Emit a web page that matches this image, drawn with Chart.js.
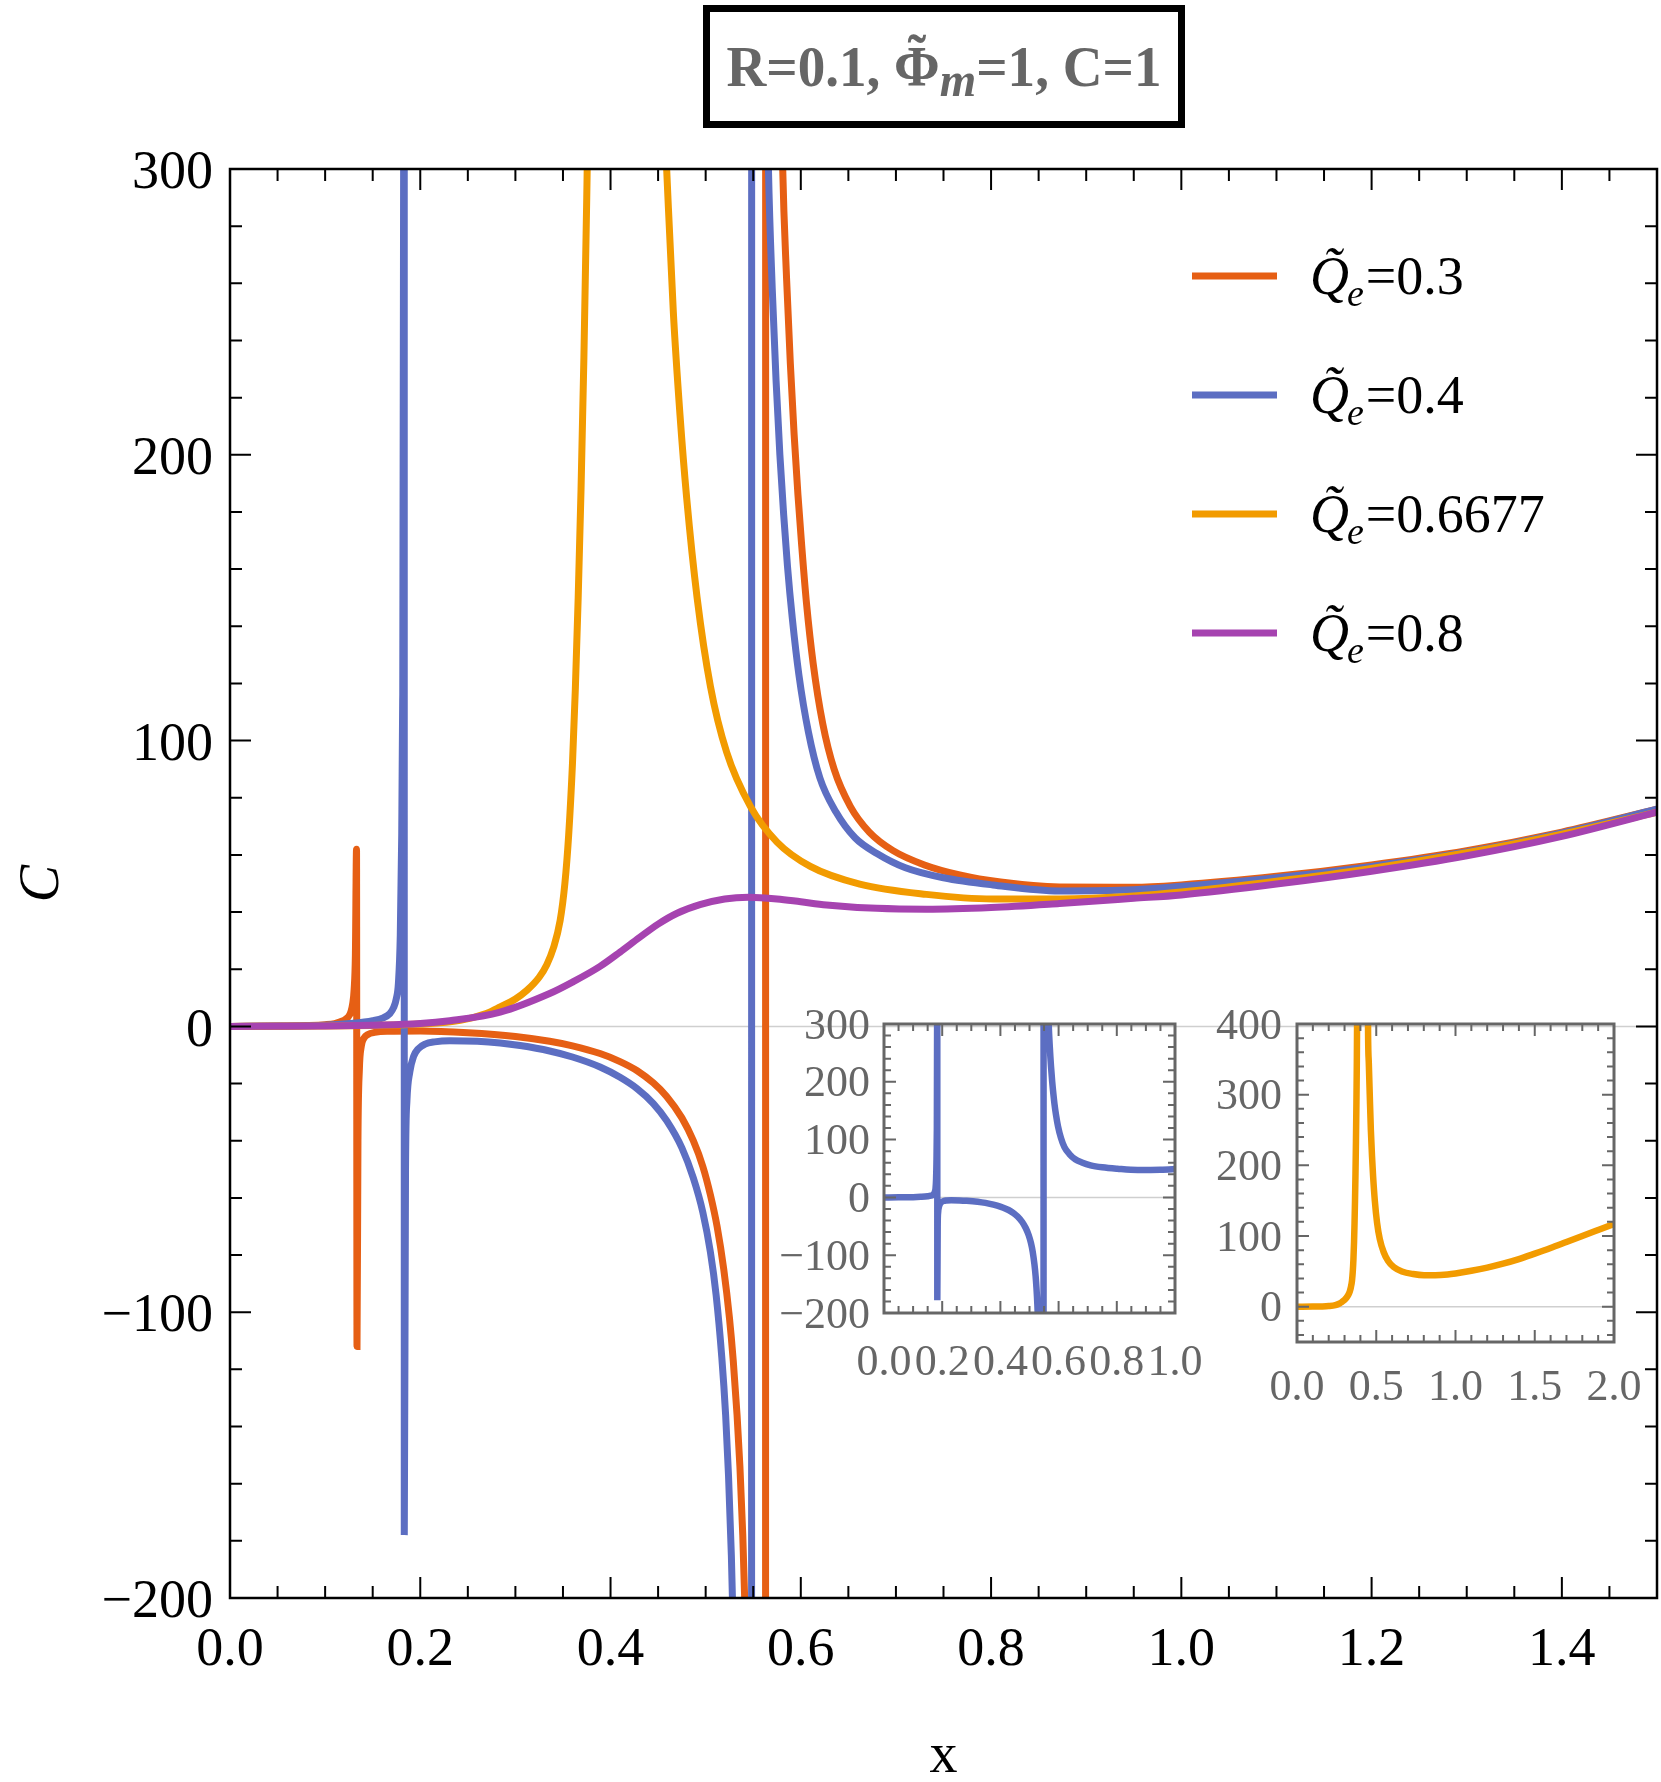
<!DOCTYPE html>
<html>
<head>
<meta charset="utf-8">
<script src="https://cdn.jsdelivr.net/npm/chart.js@4.4.1/dist/chart.umd.min.js"></script>
<style>
  body { margin: 0; background: #fff; }
  #wrap { position: relative; width: 1661px; height: 1782px; overflow: hidden; }
  #wrap canvas { position: absolute; }
  #title {
    position: absolute; left: 703px; top: 5px; width: 482px; height: 123px;
    box-sizing: border-box; border: 7px solid #000;
    display: flex; align-items: center; justify-content: center;
    font: bold 58px "Liberation Serif", serif; color: #666; white-space: nowrap;
  }
  #title .txt { display: inline-block; transform: scaleX(0.95); }
  #title .acc { position: relative; display: inline-block; }
  #title .tl { position: absolute; left: 0; right: 0; top: -0.2em; text-align: center; }
  #title sub { font-style: italic; font-size: 0.85em; vertical-align: -0.2em; line-height: 0; }
</style>
</head>
<body>
<div id="wrap">
  <canvas id="mainChart" width="1661" height="1782" style="left:0;top:0"></canvas>
  <canvas id="inset1" width="460" height="420" style="left:770px;top:980px"></canvas>
  <canvas id="inset2" width="484" height="440" style="left:1180px;top:980px"></canvas>
  <div id="title"><span class="txt">R=0.1, <span class="acc">&Phi;<span class="tl">&#732;</span></span><sub>m</sub>=1, C=1</span></div>
</div>
<script>
// Q_e values shown in the legend, with their line colours
const seriesLabels = ['0.3', '0.4', '0.6677', '0.8'];
const seriesColors = ['#e65f14', '#5c6ec2', '#f29b00', '#a643b0'];

// Q_e = 0.3
const redX = [0, 0.05, 0.08, 0.1, 0.11, 0.119, 0.124, 0.127, 0.129, 0.1305, 0.1318, 0.133, 0.1335, 0.1345, 0.136,
  0.138, 0.141, 0.145, 0.152, 0.165, 0.2, 0.25, 0.3, 0.336, 0.36, 0.389, 0.41, 0.428, 0.445, 0.459,
  0.475, 0.487, 0.497, 0.505, 0.512, 0.519, 0.525, 0.529, 0.533, 0.536, 0.539, 0.541, 0.546, 0.552, 0.558,
  0.5625, 0.5635, 0.566, 0.57, 0.575, 0.578, 0.581, 0.585, 0.589, 0.593, 0.597, 0.601, 0.606, 0.613, 0.623,
  0.635, 0.652, 0.672, 0.697, 0.73, 0.767, 0.81, 0.872, 0.95, 1.0, 1.1, 1.2, 1.3, 1.4, 1.5];
const redY = [0, 0.1, 0.3, 0.6, 1, 2, 3.2, 5, 8, 13, 25, 62, -112, -40, -15,
  -7, -4, -2.8, -2.1, -1.7, -1.6, -2.2, -3.5, -5.2, -6.8, -9.5, -12.3, -15.5, -19.8, -24.5,
  -32, -40, -49, -59, -70, -85, -102, -117, -136, -154, -178, -200, -270, -420, -900,
  -4000, 4000, 1600, 800, 450, 360, 300, 262, 232, 207, 186, 168, 148, 127, 106,
  90, 77, 68, 61.5, 56.5, 53, 50.5, 48.8, 48.7, 49.5, 52.5, 56.5, 61.5, 68, 76];

// Q_e = 0.4
const blueX = [0, 0.05, 0.1, 0.126, 0.15, 0.161, 0.168, 0.172, 0.175, 0.177, 0.179, 0.1805, 0.1815, 0.1825, 0.183,
  0.1832, 0.1845, 0.186, 0.189, 0.193, 0.198, 0.205, 0.215, 0.231, 0.26, 0.284, 0.305, 0.336, 0.36, 0.389,
  0.41, 0.428, 0.445, 0.459, 0.475, 0.487, 0.497, 0.505, 0.511, 0.517, 0.521, 0.524, 0.527, 0.5285, 0.532,
  0.538, 0.5443, 0.5478, 0.5488, 0.552, 0.556, 0.56, 0.563, 0.566, 0.57, 0.574, 0.578, 0.582, 0.586, 0.591,
  0.598, 0.608, 0.62, 0.637, 0.657, 0.68, 0.71, 0.75, 0.802, 0.872, 0.95, 1.0, 1.1, 1.2, 1.3,
  1.4, 1.5];
const blueY = [0, 0.1, 0.4, 1, 2, 3, 4.5, 6.6, 10, 15, 32, 67, 114, 300, 2500,
  -178, -50, -26, -16, -10.5, -7.8, -6.2, -5.4, -5.0, -5.2, -5.8, -6.7, -8.6, -10.7, -14.2,
  -17.8, -21.8, -27, -33, -42.5, -53, -65, -79, -94, -116, -136, -157, -185, -205, -280,
  -500, -1200, -5000, 5000, 1500, 750, 450, 360, 300, 258, 226, 200, 179, 161, 143,
  123, 103, 87, 75, 66, 60.5, 55.5, 52, 49.5, 47.4, 47.8, 49, 52, 56, 61,
  67.7, 76];

// Q_e = 0.6677
const orangeX = [0, 0.1, 0.15, 0.2, 0.242, 0.27, 0.284, 0.3, 0.312, 0.325, 0.333, 0.34, 0.347, 0.352, 0.356,
  0.36, 0.363, 0.366, 0.369, 0.372, 0.375, 0.377, 0.379, 0.385, 0.395, 0.415, 0.435, 0.445, 0.448, 0.453,
  0.459, 0.466, 0.473, 0.48, 0.491, 0.505, 0.522, 0.547, 0.575, 0.61, 0.662, 0.732, 0.802, 0.872, 0.95,
  1.0, 1.1, 1.2, 1.3, 1.4, 1.5, 1.6, 1.7, 1.8, 1.9, 2.0];
const orangeY = [0, 0.1, 0.3, 0.8, 2.1, 4.6, 6.8, 9.6, 12.6, 17.2, 21.6, 27.5, 37, 50, 67,
  92, 118, 150, 188, 234, 290, 335, 400, 850, 3000, 20000, 3000, 600, 400, 345,
  300, 250, 214, 185, 150, 119, 96, 77, 64.5, 56, 49.8, 46.2, 44.6, 44.6, 45.6,
  47, 50.8, 55.3, 60.8, 67.3, 75, 83, 91.5, 100, 108.5, 117];

// Q_e = 0.8
const purpleX = [0, 0.1, 0.15, 0.2, 0.231, 0.284, 0.336, 0.36, 0.389, 0.41, 0.43, 0.45, 0.47, 0.494, 0.52,
  0.545, 0.575, 0.6, 0.627, 0.68, 0.732, 0.8, 0.872, 0.95, 1.0, 1.1, 1.2, 1.3, 1.4, 1.5];
const purpleY = [0, 0.1, 0.4, 1, 2, 5, 11.5, 15.5, 21, 26, 31, 35.8, 39.6, 42.6, 44.6,
  45.2, 44.6, 43.6, 42.5, 41.3, 41, 41.6, 43, 44.8, 46, 49.8, 54.3, 59.7, 66.5, 75];

// tick labels
const mainXTicks = [0, 0.2, 0.4, 0.6, 0.8, 1.0, 1.2, 1.4];
const mainYTicks = [-200, -100, 0, 100, 200, 300];
const inset1XTicks = [0, 0.2, 0.4, 0.6, 0.8, 1.0];
const inset1YTicks = [-200, -100, 0, 100, 200, 300];
const inset2XTicks = [0, 0.5, 1.0, 1.5, 2.0];
const inset2YTicks = [0, 100, 200, 300, 400];

const SERIF = '"Liberation Serif", "Times New Roman", serif';

function toPoints(xs, ys) {
  return xs.map((x, i) => ({ x: x, y: ys[i] }));
}

function minusLabel(v) {
  return v < 0 ? '\u2212' + Math.abs(v) : String(v);
}

function lineSet(xs, ys, color, order, width) {
  return {
    data: toPoints(xs, ys),
    borderColor: color,
    backgroundColor: color,
    borderWidth: width,
    pointRadius: 0,
    fill: false,
    cubicInterpolationMode: 'monotone',
    clip: 0,
    order: order
  };
}

// frame on all four sides, inward ticks, and the light zero line
function makeFrame(cfg) {
  const near = (v, list) => list.some(m => Math.abs(m - v) < 1e-9);
  const marks = (scale, step, majors) => {
    const out = [];
    const start = Math.ceil(scale.min / step - 1e-9);
    const end = Math.floor(scale.max / step + 1e-9);
    for (let k = start; k <= end; k++) {
      const v = k * step;
      out.push({ v: v, major: near(v, majors) });
    }
    return out;
  };
  return {
    id: 'frameTicks',
    beforeDatasetsDraw(chart) {
      const { ctx, chartArea: a } = chart;
      const y0 = chart.scales.y.getPixelForValue(0);
      ctx.save();
      ctx.strokeStyle = '#cfcfcf';
      ctx.lineWidth = 1.5;
      ctx.beginPath();
      ctx.moveTo(a.left, y0);
      ctx.lineTo(a.right, y0);
      ctx.stroke();
      ctx.restore();
    },
    afterDatasetsDraw(chart) {
      const { ctx, chartArea: a, scales: { x, y } } = chart;
      ctx.save();
      ctx.strokeStyle = cfg.color;
      ctx.lineWidth = cfg.tickWidth;
      ctx.beginPath();
      marks(x, cfg.xStep, cfg.xMajor).forEach(m => {
        const px = x.getPixelForValue(m.v);
        const len = m.major ? cfg.majorLen : cfg.minorLen;
        ctx.moveTo(px, a.bottom); ctx.lineTo(px, a.bottom - len);
        ctx.moveTo(px, a.top); ctx.lineTo(px, a.top + len);
      });
      marks(y, cfg.yStep, cfg.yMajor).forEach(m => {
        const py = y.getPixelForValue(m.v);
        const len = m.major ? cfg.majorLen : cfg.minorLen;
        ctx.moveTo(a.left, py); ctx.lineTo(a.left + len, py);
        ctx.moveTo(a.right, py); ctx.lineTo(a.right - len, py);
      });
      ctx.stroke();
      ctx.lineWidth = cfg.frameWidth;
      ctx.strokeRect(a.left, a.top, a.right - a.left, a.bottom - a.top);
      ctx.restore();
    }
  };
}

// legend with italic Q~ and subscript e
const legendPlugin = {
  id: 'qLegend',
  afterDraw(chart) {
    const ctx = chart.ctx;
    seriesLabels.forEach((lab, i) => {
      const y = 276 + i * 119;
      ctx.save();
      ctx.strokeStyle = seriesColors[i];
      ctx.lineWidth = 7;
      ctx.beginPath();
      ctx.moveTo(1192, y);
      ctx.lineTo(1277, y);
      ctx.stroke();
      ctx.fillStyle = '#000';
      ctx.textBaseline = 'alphabetic';
      const base = y + 18;
      let x = 1310;
      ctx.font = 'italic 54px ' + SERIF;
      ctx.fillText('Q\u0303', x, base);
      x += ctx.measureText('Q').width;
      ctx.font = 'italic 38px ' + SERIF;
      ctx.fillText('e', x - 2, base + 12);
      x += ctx.measureText('e').width;
      ctx.font = '54px ' + SERIF;
      ctx.fillText('=' + lab, x, base);
      ctx.restore();
    });
  }
};

function axis(opts) {
  return {
    type: 'linear',
    min: opts.min,
    max: opts.max,
    afterFit: opts.fit,
    afterBuildTicks: s => { s.ticks = opts.ticks.map(v => ({ value: v })); },
    grid: { display: false, drawTicks: false },
    border: { display: false },
    ticks: {
      autoSkip: false,
      maxRotation: 0,
      minRotation: 0,
      padding: opts.pad,
      labelOffset: opts.labelOffset || 0,
      color: opts.color,
      font: { family: SERIF, size: opts.size },
      callback: opts.fmt
    },
    title: opts.title || { display: false }
  };
}

const mainDatasets = [
  lineSet(redX, redY, seriesColors[0], 3, 7),
  lineSet(blueX, blueY, seriesColors[1], 2, 7),
  lineSet(orangeX, orangeY, seriesColors[2], 1, 7),
  lineSet(purpleX, purpleY, seriesColors[3], 0, 7)
];

new Chart(document.getElementById('mainChart'), {
  type: 'line',
  data: { datasets: mainDatasets },
  options: {
    responsive: false,
    animation: false,
    events: [],
    layout: { padding: { top: 169, right: 4, left: 0, bottom: 0 } },
    plugins: { legend: { display: false }, tooltip: { enabled: false } },
    scales: {
      x: axis({
        min: 0, max: 1.5, ticks: mainXTicks, pad: 20, size: 54, color: '#000',
        fit: s => { s.height = 184; },
        fmt: v => v.toFixed(1),
        title: { display: true, text: 'x', color: '#000', font: { family: SERIF, size: 56 }, padding: { top: 0, bottom: -9 } }
      }),
      y: axis({
        min: -200, max: 300, ticks: mainYTicks, pad: 17, size: 54, color: '#000', labelOffset: 5,
        fit: s => { s.width = 230; },
        fmt: minusLabel,
        title: { display: true, text: 'C', color: '#000', font: { family: SERIF, size: 56, style: 'italic' }, padding: { top: 10, bottom: 0 } }
      })
    }
  },
  plugins: [
    makeFrame({ color: '#000', tickWidth: 2, frameWidth: 2.5, majorLen: 21, minorLen: 12,
      xStep: 0.05, yStep: 20, xMajor: mainXTicks, yMajor: mainYTicks }),
    legendPlugin
  ]
});

// inset: Q_e = 0.4 over 0..1
new Chart(document.getElementById('inset1'), {
  type: 'line',
  data: { datasets: [lineSet(blueX, blueY, seriesColors[1], 0, 6.5)] },
  options: {
    responsive: false,
    animation: false,
    events: [],
    layout: { padding: { top: 44, right: 55, left: 0, bottom: 0 } },
    plugins: { legend: { display: false }, tooltip: { enabled: false } },
    scales: {
      x: axis({ min: 0, max: 1.0, ticks: inset1XTicks, pad: 24, size: 44, color: '#666',
        fit: s => { s.height = 87; }, fmt: v => v.toFixed(1) }),
      y: axis({ min: -200, max: 300, ticks: inset1YTicks, pad: 14, size: 44, color: '#666', labelOffset: 3,
        fit: s => { s.width = 114; }, fmt: minusLabel })
    }
  },
  plugins: [makeFrame({ color: '#666', tickWidth: 2, frameWidth: 3, majorLen: 12, minorLen: 7,
    xStep: 0.05, yStep: 20, xMajor: inset1XTicks, yMajor: inset1YTicks })]
});

// inset: Q_e = 0.6677 over 0..2
new Chart(document.getElementById('inset2'), {
  type: 'line',
  data: { datasets: [lineSet(orangeX, orangeY, seriesColors[2], 0, 6.5)] },
  options: {
    responsive: false,
    animation: false,
    events: [],
    layout: { padding: { top: 44, right: 50, left: 0, bottom: 0 } },
    plugins: { legend: { display: false }, tooltip: { enabled: false } },
    scales: {
      x: axis({ min: 0, max: 2.0, ticks: inset2XTicks, pad: 20, size: 44, color: '#666',
        fit: s => { s.height = 78; }, fmt: v => v.toFixed(1) }),
      y: axis({ min: -50, max: 400, ticks: inset2YTicks, pad: 15, size: 44, color: '#666', labelOffset: 3,
        fit: s => { s.width = 117; }, fmt: minusLabel })
    }
  },
  plugins: [makeFrame({ color: '#666', tickWidth: 2, frameWidth: 3, majorLen: 12, minorLen: 7,
    xStep: 0.1, yStep: 20, xMajor: inset2XTicks, yMajor: inset2YTicks })]
});
</script>
</body>
</html>
